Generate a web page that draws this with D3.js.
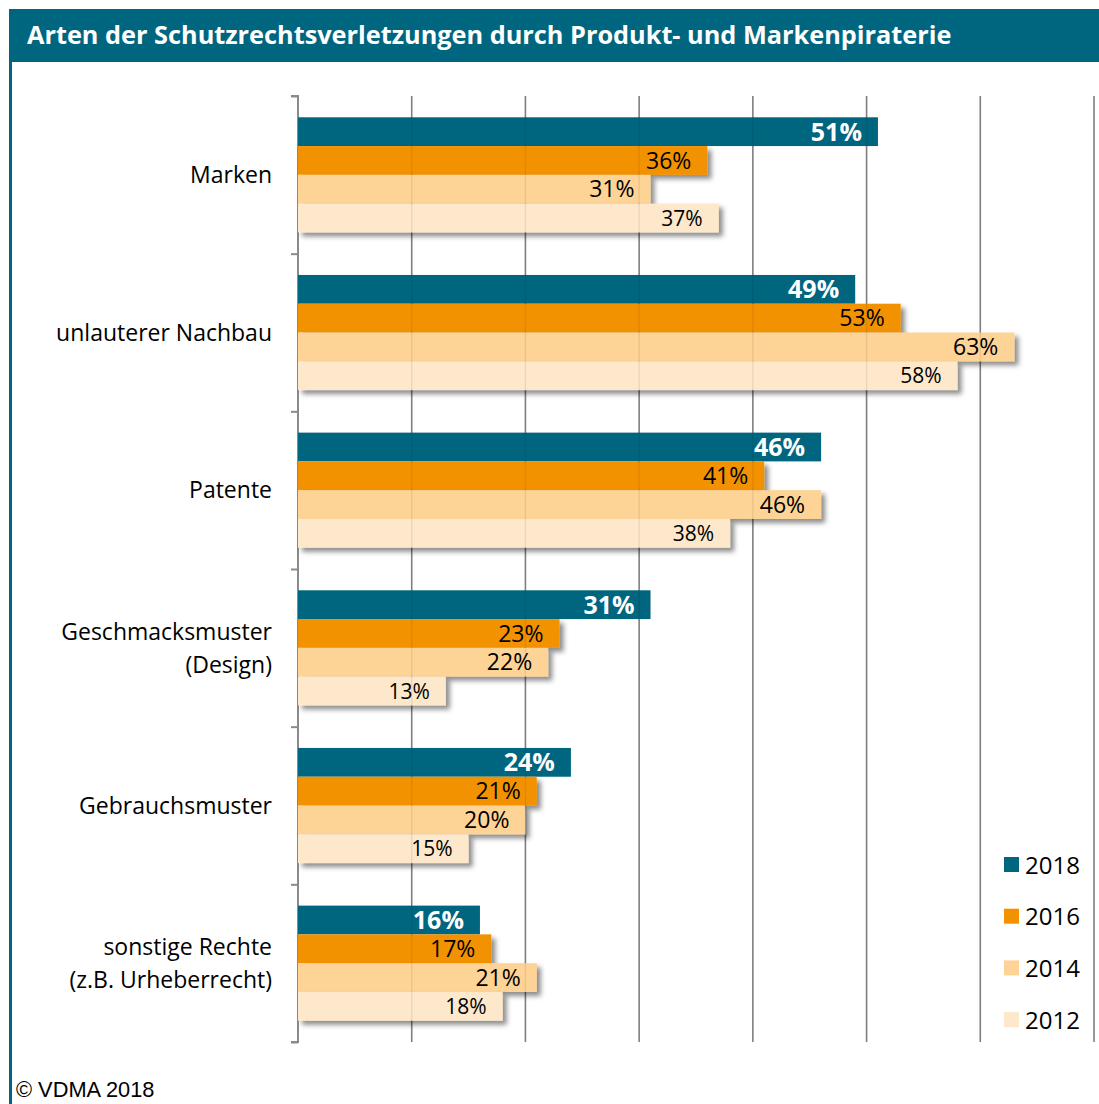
<!DOCTYPE html>
<html>
<head>
<meta charset="utf-8">
<script src="https://cdn.jsdelivr.net/npm/d3@7"></script>
<style>
  html, body { margin: 0; padding: 0; background: #fff; }
  svg { display: block; }
</style>
</head>
<body>
<div id="chart"></div>
<script>
"use strict";

let title = 'Arten der Schutzrechtsverletzungen durch Produkt- und Markenpiraterie';
let categories = ['Marken', 'unlauterer Nachbau', 'Patente', 'Geschmacksmuster\n(Design)', 'Gebrauchsmuster', 'sonstige Rechte\n(z.B. Urheberrecht)'];
let years = ['2018', '2016', '2014', '2012'];
let v2018 = [51, 49, 46, 31, 24, 16];
let v2016 = [36, 53, 41, 23, 21, 17];
let v2014 = [31, 63, 46, 22, 20, 21];
let v2012 = [37, 58, 38, 13, 15, 18];
let xTicks = [10, 20, 30, 40, 50, 60, 70];

let series = [v2018, v2016, v2014, v2012];
let colors = ['#00657f', '#f39200', '#fed396', '#fee8cb'];
let labelSize = [25, 23, 23, 21];
let font = '"Open Sans", Lato, sans-serif';

let width = 1099;
let height = 1104;
let plot = { left: 298, right: 1094, top: 96, bottom: 1042 };

let svg = d3.select('#chart')
  .append('svg')
  .attr('width', width)
  .attr('height', height);

let defs = svg.append('defs');
defs.append('filter')
  .attr('id', 'shadow')
  .attr('x', '-5%').attr('y', '-20%')
  .attr('width', '115%').attr('height', '160%')
  .append('feDropShadow')
  .attr('dx', 4).attr('dy', 4)
  .attr('stdDeviation', 2.5)
  .attr('flood-color', '#000')
  .attr('flood-opacity', 0.45);

// frame: title bar and left rule
svg.append('rect')
  .attr('x', 9).attr('y', 9)
  .attr('width', width - 9).attr('height', 53)
  .attr('fill', '#00667f');
svg.append('rect')
  .attr('x', 9).attr('y', 62)
  .attr('width', 3).attr('height', height - 62)
  .attr('fill', '#00667f');
svg.append('text')
  .attr('x', 27).attr('y', 44)
  .attr('fill', '#fff')
  .style('font-family', font)
  .style('font-weight', 700)
  .style('font-size', '25.3px')
  .text(title);

let x = d3.scaleLinear()
  .domain([0, 70])
  .range([plot.left, plot.right]);

let y = d3.scaleBand()
  .domain(categories)
  .range([plot.top, plot.bottom])
  .paddingInner(0.27)
  .paddingOuter(0.135);

let ySub = d3.scaleBand()
  .domain(years)
  .range([0, y.bandwidth()]);

let yEdge = d3.scaleLinear()
  .domain([0, categories.length])
  .range([plot.top, plot.bottom]);

// gridlines
svg.append('g')
  .selectAll('line')
  .data(xTicks)
  .join('line')
  .attr('x1', d => x(d)).attr('x2', d => x(d))
  .attr('y1', plot.top).attr('y2', plot.bottom)
  .attr('stroke', '#8a8a8a')
  .attr('stroke-width', 1.6);

// category axis with boundary ticks
let axis = svg.append('g')
  .attr('transform', 'translate(' + plot.left + ',0)')
  .call(d3.axisLeft(yEdge).ticks(categories.length).tickSize(7).tickFormat(''));
axis.select('.domain').attr('stroke', '#8a8a8a').attr('stroke-width', 2);
axis.selectAll('.tick line').attr('stroke', '#8a8a8a').attr('stroke-width', 2);
axis.select('.domain').attr('d', 'M-7,' + plot.top + 'H0V' + plot.bottom + 'H-7');

// bars
let groups = svg.append('g')
  .selectAll('g')
  .data(categories)
  .join('g')
  .attr('transform', d => 'translate(0,' + y(d) + ')');

years.forEach((yr, si) => {
  groups.append('rect')
    .attr('x', x(0))
    .attr('y', ySub(yr))
    .attr('width', (d, i) => x(series[si][i]) - x(0))
    .attr('height', ySub.bandwidth())
    .attr('fill', colors[si])
    .attr('filter', si === 0 ? null : 'url(#shadow)');
});

// faint gridlines through bars
svg.append('g')
  .selectAll('line')
  .data(xTicks)
  .join('line')
  .attr('x1', d => x(d)).attr('x2', d => x(d))
  .attr('y1', plot.top).attr('y2', plot.bottom)
  .attr('stroke', '#000')
  .attr('stroke-opacity', 0.08)
  .attr('stroke-width', 1.4);

// value labels
years.forEach((yr, si) => {
  groups.append('text')
    .attr('x', (d, i) => x(series[si][i]) - 16)
    .attr('y', ySub(yr) + ySub.bandwidth() / 2)
    .attr('dy', '0.36em')
    .attr('text-anchor', 'end')
    .attr('fill', si === 0 ? '#fff' : '#000')
    .style('font-family', font)
    .style('font-weight', si === 0 ? 700 : 400)
    .style('font-size', labelSize[si] + 'px')
    .text((d, i) => series[si][i] + '%');
});

// category labels
groups.each(function (d) {
  let lines = d.split('\n');
  let t = d3.select(this).append('text')
    .attr('text-anchor', 'end')
    .attr('fill', '#000')
    .style('font-family', font)
    .style('font-size', '23px');
  let lh = 33;
  let y0 = y.bandwidth() / 2 - (lines.length - 1) * lh / 2;
  lines.forEach((ln, k) => {
    t.append('tspan')
      .attr('x', 272)
      .attr('y', y0 + k * lh)
      .attr('dy', '0.36em')
      .text(ln);
  });
});

// legend
let legend = svg.append('g')
  .selectAll('g')
  .data(years)
  .join('g')
  .attr('transform', (d, i) => 'translate(1004,' + (865 + i * 51.7) + ')');
legend.append('rect')
  .attr('x', 0).attr('y', -8)
  .attr('width', 15).attr('height', 15)
  .attr('fill', (d, i) => colors[i]);
legend.append('text')
  .attr('x', 21)
  .attr('dy', '0.36em')
  .style('font-family', font)
  .style('font-size', '24px')
  .text(d => d);

// source
svg.append('text')
  .attr('x', 16).attr('y', 1097)
  .style('font-family', '"Liberation Sans", Arial, sans-serif')
  .style('font-size', '21.8px')
  .text('\u00a9 VDMA 2018');
</script>
</body>
</html>
